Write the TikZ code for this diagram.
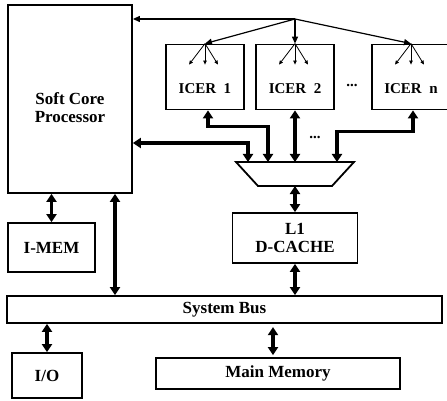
\documentclass[tikz,border=0pt]{standalone}
\usepackage{fontspec}
\setmainfont{Liberation Serif}
\usetikzlibrary{arrows.meta}

\begin{document}
\begin{tikzpicture}[x=1pt,y=-1pt,
    blk/.style={draw, line width=1.8pt, inner sep=0pt, align=center,
      font=\fontsize{17}{18}\selectfont\bfseries},
    lbl/.style={inner sep=0pt, align=center, font=\fontsize{17}{18}\selectfont\bfseries},
    icerlbl/.style={inner sep=0pt, font=\fontsize{15}{17}\selectfont\bfseries},
    bus/.style={line width=3.2pt,
      {Triangle[length=8pt,width=10pt]}-{Triangle[length=8pt,width=10pt]}},
    ctrl/.style={line width=1.2pt, -{Triangle[length=7pt,width=6pt]}},
    fan/.style={line width=0.8pt, -{Triangle[length=4pt,width=3.5pt]}}]
  \useasboundingbox (0,0) rectangle (447,401);

  % processor and the ICER row
  \node[blk, minimum width=124pt, minimum height=188pt] (proc) at (70,99) {};
  \node[lbl] (proclbl) at ([yshift=-9pt]proc.center) {Soft Core\\Processor};
  \foreach \n/\x in {1/205, 2/295, n/411} {
    \node[blk, minimum width=78pt, minimum height=65pt] (icer\n) at (\x,77) {};
    \node[icerlbl] (icerlbl\n) at ([yshift=-12pt]icer\n.center) {ICER\enspace\n};
    \foreach \dx in {-16,0,13}
      \draw[fan] (icer\n.north) -- ++(\dx,21);
  }
  \node[icerlbl] (dots1) at (352,85) {...};

  \coordinate (hub) at (295,19);
  \draw[ctrl] (hub) -- (proc.east |- hub);
  \foreach \n in {1,2,n}
    \draw[ctrl] (hub) -- (icer\n.north);

  % selector
  \coordinate (muxtop) at (295,162);
  \coordinate (muxbot) at (295,186);
  \draw[line width=1.8pt, line join=miter]
    ([xshift=-59pt]muxtop) -- ([xshift=59pt]muxtop) -- ([xshift=37pt]muxbot)
    -- ([xshift=-37pt]muxbot) -- cycle;
  \node[icerlbl] (dots2) at (315,137) {...};

  \draw[bus] ([yshift=-44pt]proc.east) -| ([xshift=-47pt]muxtop);
  \draw[bus] ([xshift=3pt]icer1.south) -- ++(0,16) -| ([xshift=-27pt]muxtop);
  \draw[bus] (icer2.south) -- (muxtop);
  \draw[bus] ([xshift=2pt]icern.south) -- ++(0,21) -| ([xshift=42pt]muxtop);

  % memory side
  \node[blk, minimum width=125pt, minimum height=50pt] (l1) at (295,238) {L1\\D-CACHE};
  \node[blk, minimum width=435pt, minimum height=27pt] (sysbus) at (224.5,309.5) {System Bus};
  \node[blk, minimum width=87pt, minimum height=49pt] (imem) at (51.5,247.5) {I-MEM};
  \node[blk, minimum width=70pt, minimum height=45pt] (io) at (47,375.5) {I/O};
  \node[blk, minimum width=244pt, minimum height=31pt] (mem) at (278,373.5) {Main Memory};

  \coordinate (procport) at ([xshift=45pt]proc.south);
  \coordinate (memport) at ([xshift=-5pt,yshift=2pt]mem.north);

  \draw[bus] (muxbot) -- (l1.north);
  \draw[bus] (l1.south) -- (l1.south |- sysbus.north);
  \draw[bus] (imem.north |- proc.south) -- (imem.north);
  \draw[bus] (procport) -- (procport |- sysbus.north);
  \draw[bus] (io.north |- sysbus.south) -- (io.north);
  \draw[bus] (memport) -- ++(0,-28);
\end{tikzpicture}
\end{document}
